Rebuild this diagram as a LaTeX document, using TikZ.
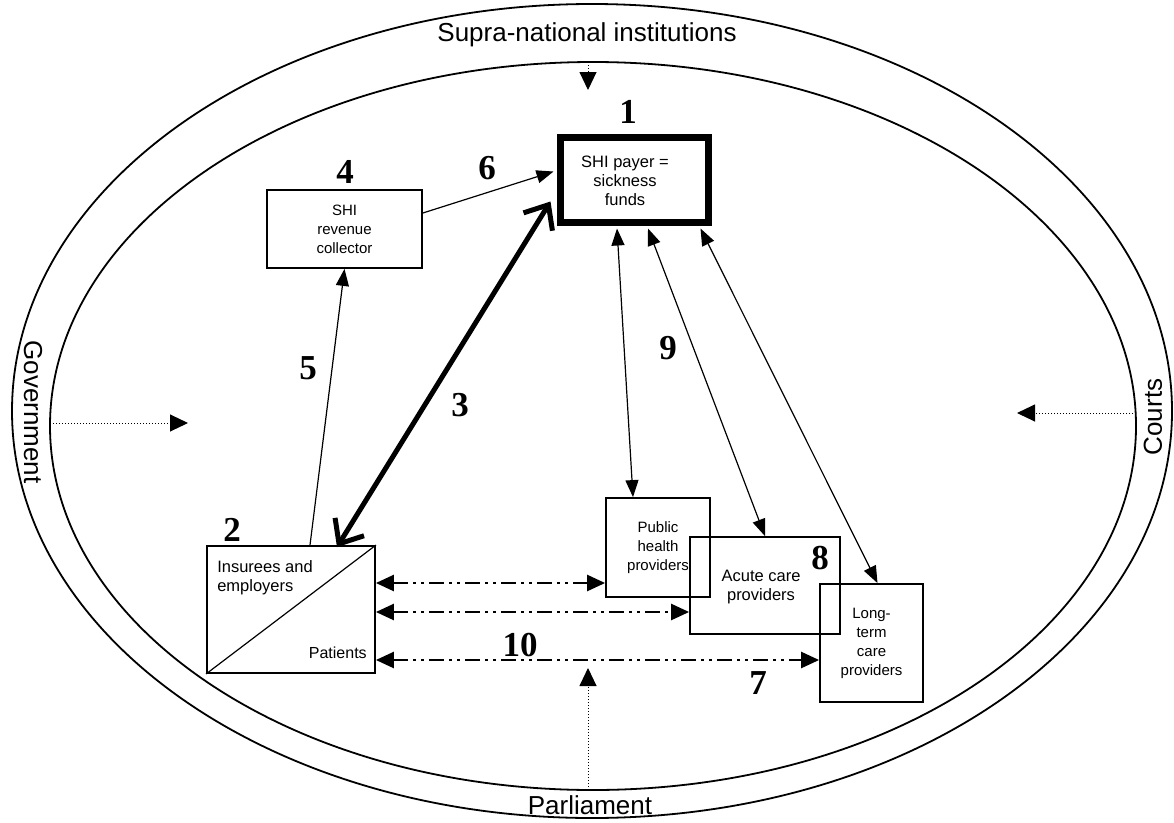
\documentclass[tikz,border=0pt]{standalone}
\usepackage{fontspec}
\setmainfont{Liberation Sans}
\newfontfamily\numfont{Liberation Serif}
\usetikzlibrary{arrows.meta}
\begin{document}
\begin{tikzpicture}[x=1pt,y=-1pt,
  box/.style={draw, line width=1.8pt, inner sep=0pt, align=center, font=\fontsize{15}{19}\selectfont},
  boxtext/.style={inner sep=0pt, align=center, font=\fontsize{15}{19}\selectfont},
  num/.style={font=\fontsize{35}{35}\numfont\bfseries, inner sep=0pt},
  ring/.style={line width=1.8pt},
  ringtext/.style={font=\fontsize{26}{26}\selectfont, inner sep=0pt},
  thinarrow/.style={line width=1.2pt, {Triangle[length=17pt,width=13pt]}-{Triangle[length=17pt,width=13pt]}},
  onearrow/.style={line width=1.2pt, -{Triangle[length=17pt,width=13pt]}},
  thickarrow/.style={line width=5pt, {Straight Barb[length=20pt,width=34pt]}-{Straight Barb[length=20pt,width=34pt]}},
  dasharrow/.style={line width=2.5pt, dash pattern=on 15pt off 5pt on 3pt off 5pt on 3pt off 5pt,
     {Triangle[length=18pt,width=16pt]}-{Triangle[length=18pt,width=16pt]}},
  dotarrow/.style={line width=1pt, dotted, -{Triangle[length=18pt,width=17pt]}}
]
\useasboundingbox (0,0) rectangle (1174,822);
% rings
\draw[ring] (592,411) ellipse [x radius=580, y radius=407];
\draw[ring] (593,426) ellipse [x radius=543, y radius=364];
\node[ringtext] (supra) at (587,35) {Supra-national institutions};
\node[ringtext] (parl) at (590,805) {Parliament};
\node[ringtext, rotate=-90] (gov) at (33,412) {Government};
\node[ringtext, rotate=90] (courts) at (1153,417) {Courts};
% influence points on inner ring
\coordinate (supraP) at (588,62);
\coordinate (parlP) at (588,790);
\coordinate (govP) at (50,423);
\coordinate (courtsP) at (1136,413);
\coordinate (supraT) at (588,90);
\coordinate (parlT) at (588,668);
\coordinate (govT) at (188,423);
\coordinate (courtsT) at (1017,413);
\draw[dotarrow] (supraP) -- (supraT);
\draw[dotarrow] (parlP) -- (parlT);
\draw[dotarrow] (govP) -- (govT);
\draw[dotarrow] (courtsP) -- (courtsT);
% boxes
\node[box, line width=7pt, minimum width=148pt, minimum height=85pt] (b1) at (634,179.5) {};
\node[boxtext, font=\fontsize{16.5}{19}\selectfont] (b1t) at (625,181) {SHI payer =\\sickness\\funds};
\node[box, minimum width=155pt, minimum height=78pt] (b4) at (344.5,229) {SHI\\revenue\\collector};
\node[box, minimum width=168pt, minimum height=127pt] (b2) at (291,609.5) {};
\draw[line width=1.2pt] (b2.south west) -- (b2.north east);
\node[anchor=north west, align=left, inner sep=0pt, font=\fontsize{16.5}{19}\selectfont] (ins) at ([xshift=11pt,yshift=-15pt]b2.north west) {Insurees and\\employers};
\node[anchor=base east, inner sep=0pt, font=\fontsize{16}{19}\selectfont] (pat) at ([xshift=-9pt,yshift=15pt]b2.south east) {Patients};
\node[box, minimum width=104pt, minimum height=99pt] (ph) at (658,547.5) {Public\\health\\providers};
\node[box, minimum width=150pt, minimum height=97pt] (ac) at (765,585.5) {};
\node[boxtext, font=\fontsize{16.5}{19}\selectfont] (act) at (761,587) {Acute care\\providers};
\node[box, minimum width=103pt, minimum height=118pt] (lt) at (871.5,643) {Long-\\term\\care\\providers};
% numbers
\node[num] (n1) at (628,112) {1};
\node[num] (n4) at (345,172) {4};
\node[num] (n6) at (487,168) {6};
\node[num] (n5) at (308,368) {5};
\node[num] (n3) at (460,405) {3};
\node[num] (n9) at (668,348) {9};
\node[num] (n2) at (232,530) {2};
\node[num] (n8) at (820,558) {8};
\node[num] (n10) at (520,645) {10};
\node[num] (n7) at (758,683) {7};
% connectors
\draw[onearrow] ([yshift=16pt]b4.east) -- ([xshift=-3pt,yshift=8pt]b1.west);
\draw[onearrow] ([xshift=19pt]b2.north) -- (b4.south);
\draw[thickarrow] ([xshift=46pt,yshift=-2pt]b2.north) -- ([xshift=-6pt,yshift=-22pt]b1.west);
\draw[thinarrow] ([xshift=-17pt,yshift=-3pt]b1.south) -- ([xshift=-25pt]ph.north);
\draw[thinarrow] ([xshift=14pt,yshift=-3pt]b1.south) -- (ac.north);
\draw[thinarrow] ([xshift=-11pt,yshift=-3pt]b1.south east) -- ([xshift=6pt]lt.north);
\draw[dasharrow] ([yshift=26.5pt]b2.east) -- ([yshift=-35.5pt]ph.west);
\draw[dasharrow] ([yshift=-2.5pt]b2.east) -- ([yshift=-26.5pt]ac.west);
\draw[dasharrow] ([yshift=-50.5pt]b2.east) -- ([yshift=-17pt]lt.west);
\end{tikzpicture}
\end{document}
